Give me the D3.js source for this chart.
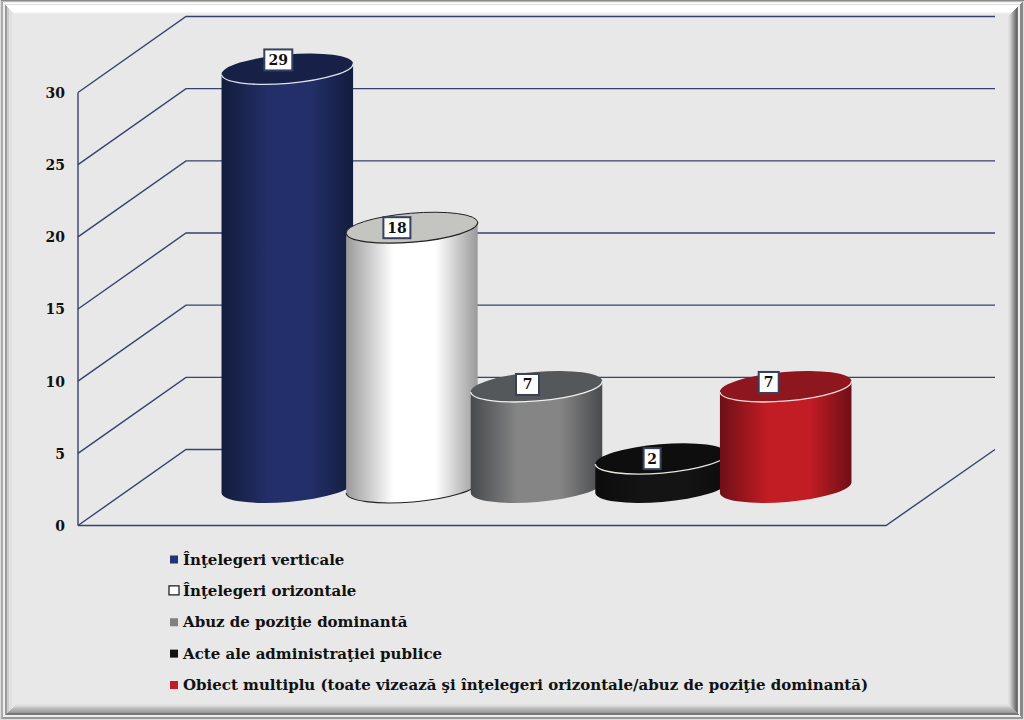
<!DOCTYPE html>
<html>
<head>
<meta charset="utf-8">
<script src="https://cdn.jsdelivr.net/npm/d3@7"></script>
<style>
html, body { margin: 0; padding: 0; background: #e8e8e8; }
svg { display: block; }
text { font-family: "DejaVu Serif", serif; font-weight: bold; fill: #111; }
</style>
</head>
<body>
<div id="chart"></div>
<script>
// ---- data ----
const categories = [
    "Înţelegeri verticale",
    "Înţelegeri orizontale",
    "Abuz de poziţie dominantă",
    "Acte ale administraţiei publice",
    "Obiect multiplu (toate vizează şi înţelegeri orizontale/abuz de poziţie dominantă)"
];
const values = [29, 18, 7, 2, 7];
const yTicks = [0, 5, 10, 15, 20, 25, 30];

// side gradient edge, side centre, top face, rim
const sideEdge = ["#121c3c", "#9a9a9a", "#484a4c", "#0c0c0c", "#6e1016"];
const sideMid  = ["#232f68", "#ffffff", "#858585", "#141414", "#c21c24"];
const topFace  = ["#172148", "#c4c5c0", "#55585a", "#0e0e0e", "#8e161e"];
const rimColor = ["#dfe3ee", "#222222", "#f0f0f0", "#e8e8e0", "#f4dcdc"];
const swatches = ["#233373", "#ffffff", "#808080", "#111111", "#c01c28"];

// frame bands, one per pixel, outermost first
const bandTop    = ["#888", "#bbb", "#eee", "#fff", "#ddd", "#fff", "#fff", "#fff", "#fff", "#fff", "#fff", "#fff", "#f4f4f4", "#eee", "#e8e8e8", "#e8e8e8"];
const bandLeft   = ["#ddd", "#aaa", "#aaa", "#eee", "#eee", "#999", "#999", "#ccc", "#ccc", "#e0e0e0", "#e0e0e0", "#e0e0e0", "#e8e8e8", "#e8e8e8", "#e8e8e8", "#e8e8e8"];
const bandRight  = ["#ddd", "#888", "#888", "#888", "#eee", "#eee", "#777", "#666", "#777", "#888", "#999", "#aaa", "#bbb", "#ccc", "#d8d8d8", "#e0e0e0"];
const bandBottom = ["#ddd", "#999", "#999", "#eee", "#eee", "#777", "#777", "#999", "#a4a4a4", "#aaa", "#b4b4b4", "#bbb", "#c8c8c8", "#d4d4d4", "#dcdcdc", "#e2e2e2"];

// ---- layout ----
const W = 1024, H = 720;
const depth = { x: 108, y: -76 };
const rx = 66, ry = 14.5, tilt = -4.8;
const tiltRad = tilt * Math.PI / 180;
const labelNudge = [[-9, -9, 28], [-15, 0, 27], [-9, -2, 23], [-9, 0, 17], [-17, -4, 20]];

const svg = d3.select("#chart").append("svg")
    .attr("width", W)
    .attr("height", H);
const defs = svg.append("defs");

// ---- frame ----
svg.append("rect").attr("width", W).attr("height", H).attr("fill", "#e8e8e8");
const frame = svg.append("g").attr("shape-rendering", "crispEdges");
bandTop.forEach((_, i) => {
    const a = i, b = i + 1;
    const sides = [
        [bandTop[i], [[a, a], [W - a, a], [W - b, b], [b, b]]],
        [bandLeft[i], [[a, a], [b, b], [b, H - b], [a, H - a]]],
        [bandRight[i], [[W - a, a], [W - a, H - a], [W - b, H - b], [W - b, b]]],
        [bandBottom[i], [[a, H - a], [b, H - b], [W - b, H - b], [W - a, H - a]]]
    ];
    sides.forEach(([color, pts]) => {
        frame.append("polygon")
            .attr("points", pts.map(p => p.join(",")).join(" "))
            .attr("fill", color);
    });
});

// ---- scales ----
const y = d3.scaleLinear().domain([0, 30]).range([525.5, 92.5]);
const x = d3.scaleBand().domain(categories).range([171, 794]).padding(0);
const centerX = d => x(d) + x.bandwidth() / 2 + depth.x / 2;
const colY = v => y(v) + depth.y / 2;

// ---- walls and floor ----
const lineColor = "#36426e";
const grid = svg.append("g").attr("fill", "none").attr("stroke", lineColor).attr("stroke-width", 1.4);

const line = d3.line();
grid.selectAll("path.grid")
    .data(yTicks)
    .enter()
    .append("path")
    .attr("class", "grid")
    .attr("d", t => line([
        [78, y(t)],
        [78 + depth.x, y(t) + depth.y],
        [t === 0 ? 260 : 995, y(t) + depth.y]
    ]));

// floor edge
grid.append("path").attr("d", line([
    [78, y(0)], [886, y(0)], [886 + depth.x + 1, y(0) + depth.y]
]));
grid.append("path").attr("d", line([[78, y(0)], [78, y(30)]]));

// ---- y axis ----
const axis = svg.append("g")
    .attr("transform", "translate(70,0.5)")
    .call(d3.axisLeft(y).tickValues(yTicks).tickSize(0).tickPadding(5));
axis.select(".domain").remove();
axis.selectAll("text")
    .style("font-family", "'DejaVu Serif', serif")
    .style("font-weight", "bold")
    .style("font-size", "14px");

// ---- cylinders ----
const cyl = svg.append("g");
categories.forEach((name, i) => {
    const gradId = "side" + i;
    const grad = defs.append("linearGradient").attr("id", gradId);
    grad.append("stop").attr("offset", "0%").attr("stop-color", sideEdge[i]);
    grad.append("stop").attr("offset", "36%").attr("stop-color", sideMid[i]);
    grad.append("stop").attr("offset", "68%").attr("stop-color", sideMid[i]);
    grad.append("stop").attr("offset", "100%").attr("stop-color", sideEdge[i]);

    const cx = centerX(name);
    const topY = colY(values[i]);
    const baseY = colY(0);
    const ex = rx * Math.cos(tiltRad);
    const ey = rx * Math.sin(tiltRad);

    cyl.append("path")
        .attr("d", `M${cx - ex},${topY - ey} L${cx - ex},${baseY - ey}
            A${rx},${ry} ${tilt} 0 0 ${cx + ex},${baseY + ey}
            L${cx + ex},${topY + ey} Z`)
        .attr("fill", `url(#${gradId})`);

    cyl.append("ellipse")
        .attr("rx", rx)
        .attr("ry", ry)
        .attr("transform", `translate(${cx},${topY}) rotate(${tilt})`)
        .attr("fill", topFace[i]);

    // lit rim along the front of the top face
    cyl.append("path")
        .attr("d", `M${cx - ex},${topY - ey} A${rx},${ry} ${tilt} 0 0 ${cx + ex},${topY + ey}`)
        .attr("fill", "none")
        .attr("stroke", rimColor[i])
        .attr("stroke-width", 1.3);
    if (i === 1) {
        cyl.append("path")
            .attr("d", `M${cx - ex},${topY - ey} A${rx},${ry} ${tilt} 0 1 ${cx + ex},${topY + ey}`)
            .attr("fill", "none")
            .attr("stroke", rimColor[i])
            .attr("stroke-width", 1);
        cyl.append("path")
            .attr("d", `M${cx - ex},${baseY - ey} A${rx},${ry} ${tilt} 0 0 ${cx + ex},${baseY + ey}`)
            .attr("fill", "none")
            .attr("stroke", "#222")
            .attr("stroke-width", 1.1);
    }
});

// ---- value labels ----
const labels = svg.append("g");
categories.forEach((name, i) => {
    const [dx, dy, w] = labelNudge[i];
    const lx = centerX(name) + dx;
    const ly = colY(values[i]) + dy;
    labels.append("rect")
        .attr("x", lx - w / 2)
        .attr("y", ly - 10.5)
        .attr("width", w)
        .attr("height", 21)
        .attr("fill", "#ffffff")
        .attr("stroke", "#36405f")
        .attr("stroke-width", 2);
    labels.append("text")
        .attr("x", lx)
        .attr("y", ly + 5)
        .attr("text-anchor", "middle")
        .style("font-size", "14px")
        .text(values[i]);
});

// ---- legend ----
const legendY = d3.scalePoint().domain(categories).range([559.5, 685]);
const legend = svg.append("g").selectAll("g")
    .data(categories)
    .enter()
    .append("g")
    .attr("transform", d => `translate(170,${legendY(d)})`);

legend.append("rect")
    .attr("x", (d, i) => i === 1 ? -1 : 0)
    .attr("y", (d, i) => i === 1 ? -5 : -4)
    .attr("width", (d, i) => i === 1 ? 10 : 8)
    .attr("height", (d, i) => i === 1 ? 9 : 8)
    .attr("fill", (d, i) => swatches[i])
    .attr("stroke", (d, i) => i === 1 ? "#111" : "none")
    .attr("stroke-width", 1.2);

legend.append("text")
    .attr("x", 13)
    .attr("y", 5)
    .style("font-size", "15px")
    .text(d => d);
</script>
</body>
</html>
